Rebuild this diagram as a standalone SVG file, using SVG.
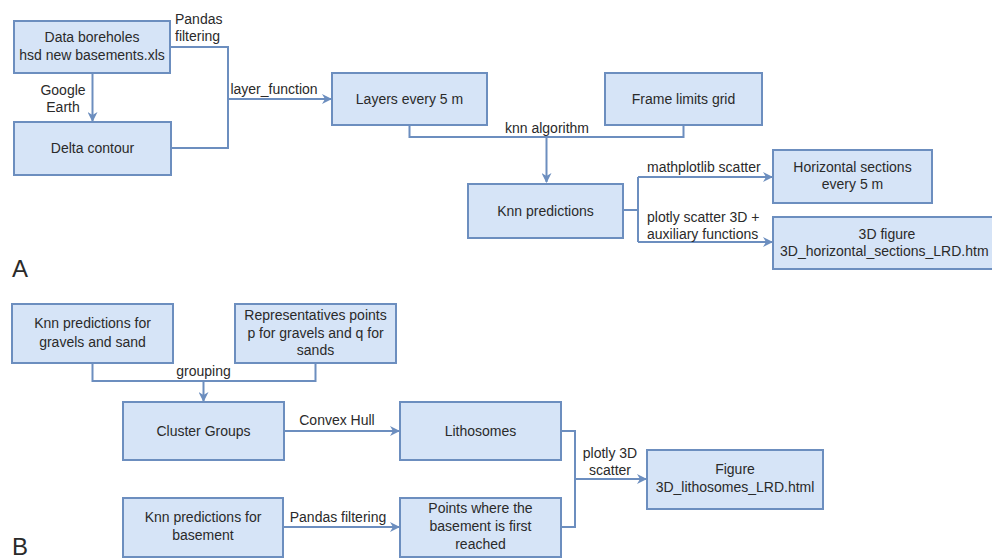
<svg xmlns="http://www.w3.org/2000/svg" width="992" height="559" viewBox="0 0 992 559">
<style>
.box{fill:#d6e4f7;stroke:#6c8ebf;stroke-width:2}
.t{font-family:"Liberation Sans",Arial,sans-serif;font-size:14px;fill:#2a2a2a;text-anchor:middle}
.l{font-family:"Liberation Sans",Arial,sans-serif;font-size:14px;fill:#2a2a2a}
.c{fill:none;stroke:#6c8ebf;stroke-width:2}
.big{font-family:"Liberation Sans",Arial,sans-serif;font-size:24px;fill:#2a2a2a}
</style>
<defs>
<marker id="ah" viewBox="0 0 10 10" refX="9" refY="5" markerWidth="5" markerHeight="5" orient="auto" markerUnits="strokeWidth">
<path d="M0,0 L10,5 L0,10 L3,5 z" fill="#6c8ebf"/>
</marker>
</defs>
<rect width="992" height="559" fill="#ffffff"/>
<g id="connectors">
<path class="c" d="M92.5,73 V121" marker-end="url(#ah)"/>
<path class="c" d="M170,47 H228 V148 H171"/>
<path class="c" d="M228,99 H331" marker-end="url(#ah)"/>
<path class="c" d="M409.5,125 V137 H683.5 V125"/>
<path class="c" d="M546.5,137 V182" marker-end="url(#ah)"/>
<path class="c" d="M623,210 H638"/>
<path class="c" d="M638,177 V242"/>
<path class="c" d="M638,177 H772" marker-end="url(#ah)"/>
<path class="c" d="M638,242 H772" marker-end="url(#ah)"/>
<path class="c" d="M92.5,363 V381 H315.5 V363"/>
<path class="c" d="M203.5,381 V401" marker-end="url(#ah)"/>
<path class="c" d="M284,431 H399" marker-end="url(#ah)"/>
<path class="c" d="M283,527 H399" marker-end="url(#ah)"/>
<path class="c" d="M561,431 H575 V527 H561"/>
<path class="c" d="M575,479 H646" marker-end="url(#ah)"/>
</g>
<g id="connector-labels">
<text class="l" x="175" y="24">Pandas</text>
<text class="l" x="175" y="41">filtering</text>
<text class="t" x="63" y="95">Google</text>
<text class="t" x="63" y="112">Earth</text>
<text class="t" x="274" y="94">layer_function</text>
<text class="t" x="547" y="133">knn algorithm</text>
<text class="l" x="647" y="172">mathplotlib scatter</text>
<text class="l" x="647" y="222">plotly scatter 3D +</text>
<text class="l" x="647" y="239">auxiliary functions</text>
<text class="t" x="203.5" y="376">grouping</text>
<text class="t" x="337" y="425">Convex Hull</text>
<text class="t" x="338" y="522">Pandas filtering</text>
<text class="t" x="610" y="458">plotly 3D</text>
<text class="t" x="610" y="475">scatter</text>
</g>
<g id="n-data">
<rect class="box" x="14" y="21" width="156" height="52"/>
<text class="t" x="92" y="42">Data boreholes</text>
<text class="t" x="92" y="60">hsd new basements.xls</text>
</g>
<g id="n-delta">
<rect class="box" x="14" y="122" width="157" height="53"/>
<text class="t" x="92.5" y="153">Delta contour</text>
</g>
<g id="n-layers">
<rect class="box" x="332" y="73" width="155" height="52"/>
<text class="t" x="409.5" y="104">Layers every 5 m</text>
</g>
<g id="n-frame">
<rect class="box" x="605" y="73" width="157" height="52"/>
<text class="t" x="683.5" y="104">Frame limits grid</text>
</g>
<g id="n-knn">
<rect class="box" x="468" y="184" width="155" height="54"/>
<text class="t" x="545.5" y="216">Knn predictions</text>
</g>
<g id="n-horizontal">
<rect class="box" x="773" y="150" width="159" height="53"/>
<text class="t" x="852.5" y="172">Horizontal sections</text>
<text class="t" x="852.5" y="189">every 5 m</text>
</g>
<g id="n-3dfig">
<rect class="box" x="773" y="217" width="230" height="52"/>
<text class="t" x="887" y="239">3D figure</text>
<text class="l" x="780" y="256">3D_horizontal_sections_LRD.htm</text>
</g>
<g id="n-knn-gravels">
<rect class="box" x="12" y="304" width="161" height="59"/>
<text class="t" x="92.5" y="328">Knn predictions for</text>
<text class="t" x="92.5" y="347">gravels and sand</text>
</g>
<g id="n-representatives">
<rect class="box" x="235" y="304" width="161" height="59"/>
<text class="t" x="315.5" y="320">Representatives points</text>
<text class="t" x="315.5" y="338">p for gravels and q for</text>
<text class="t" x="315.5" y="355">sands</text>
</g>
<g id="n-cluster">
<rect class="box" x="123" y="402" width="161" height="58"/>
<text class="t" x="203.5" y="436">Cluster Groups</text>
</g>
<g id="n-lithosomes">
<rect class="box" x="400" y="402" width="161" height="58"/>
<text class="t" x="480.5" y="436">Lithosomes</text>
</g>
<g id="n-knn-basement">
<rect class="box" x="123" y="498" width="160" height="59"/>
<text class="t" x="203" y="522">Knn predictions for</text>
<text class="t" x="203" y="540">basement</text>
</g>
<g id="n-points">
<rect class="box" x="400" y="498" width="161" height="59"/>
<text class="t" x="480.5" y="513">Points where the</text>
<text class="t" x="480.5" y="531">basement is first</text>
<text class="t" x="480.5" y="549">reached</text>
</g>
<g id="n-figure">
<rect class="box" x="647" y="450" width="176" height="59"/>
<text class="t" x="735" y="474">Figure</text>
<text class="t" x="735" y="492">3D_lithosomes_LRD.html</text>
</g>
<text class="big" x="12" y="277">A</text>
<text class="big" x="12" y="555">B</text>
</svg>
